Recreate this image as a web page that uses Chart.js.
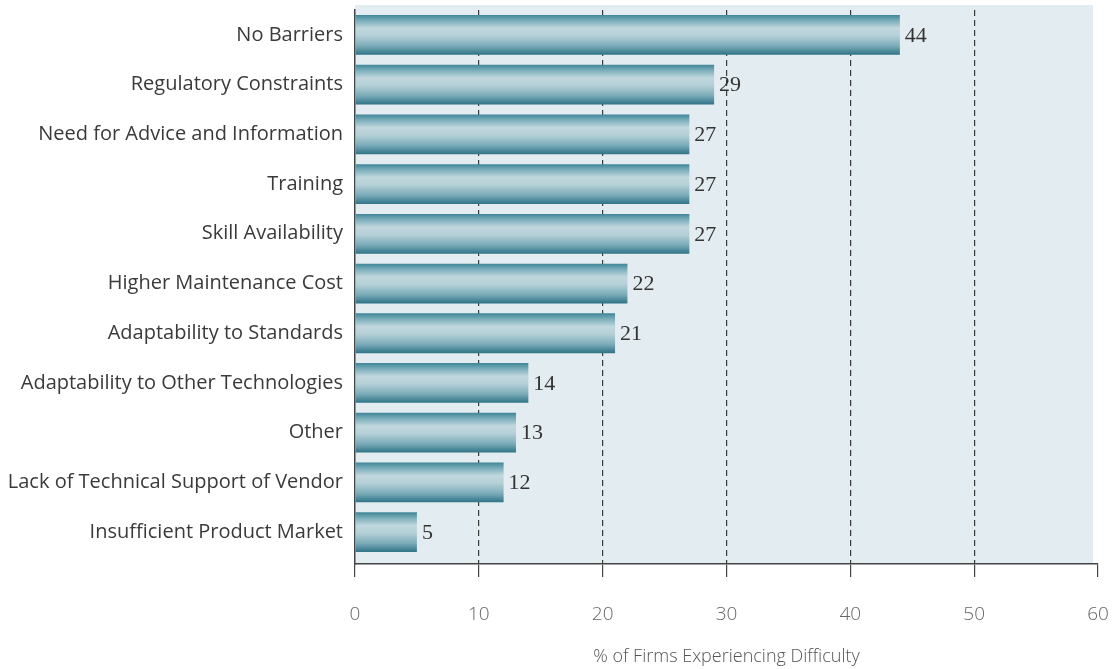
<!DOCTYPE html>
<html><head><meta charset="utf-8">
<script src="https://cdn.jsdelivr.net/npm/chart.js@4/dist/chart.umd.min.js"></script>
<style>html,body{margin:0;padding:0;background:#fff}#wrap{width:1116px;height:669px}</style>
</head><body><div id="wrap"><canvas id="c" width="1116" height="669"></canvas></div>
<script>
const categories = [
  'No Barriers',
  'Regulatory Constraints',
  'Need for Advice and Information',
  'Training',
  'Skill Availability',
  'Higher Maintenance Cost',
  'Adaptability to Standards',
  'Adaptability to Other Technologies',
  'Other',
  'Lack of Technical Support of Vendor',
  'Insufficient Product Market'
];
const values = [44, 29, 27, 27, 27, 22, 21, 14, 13, 12, 5];
const xTicks = [0, 10, 20, 30, 40, 50, 60];
const axisTitle = '% of Firms Experiencing Difficulty';

function barFill(ctx) {
  const chart = ctx.chart;
  const ys = chart.scales && chart.scales.y;
  if (!ys || !chart.chartArea || ctx.dataIndex === undefined) return '#6fa3b1';
  const c = ys.getPixelForValue(ctx.dataIndex);
  const band = Math.abs(ys.getPixelForValue(1) - ys.getPixelForValue(0));
  const h = band * 0.4;
  if (!isFinite(c) || !isFinite(h)) return '#6fa3b1';
  const g = chart.ctx.createLinearGradient(0, c - h, 0, c + h);
  g.addColorStop(0, '#3f8597');
  g.addColorStop(0.12, '#72a8b6');
  g.addColorStop(0.33, '#c0d7dd');
  g.addColorStop(0.52, '#b5d0d7');
  g.addColorStop(0.78, '#7aabb8');
  g.addColorStop(1, '#2f7386');
  return g;
}

const bgPlugin = {
  id: 'bg',
  beforeDraw(chart) {
    const {ctx, chartArea: a} = chart;
    ctx.save();
    ctx.fillStyle = '#e3ecf1';
    ctx.fillRect(a.left, a.top - 5, a.right - a.left - 5, a.bottom - a.top + 5);
    ctx.restore();
  }
};

const valuePlugin = {
  id: 'vals',
  afterDatasetsDraw(chart) {
    const ctx = chart.ctx;
    const meta = chart.getDatasetMeta(0);
    ctx.save();
    ctx.font = '22px "Liberation Serif", "DejaVu Serif", serif';
    ctx.fillStyle = '#333';
    ctx.textBaseline = 'middle';
    ctx.textAlign = 'left';
    meta.data.forEach((el, i) => {
      ctx.fillText(String(values[i]), el.x + 5, el.y + 1);
    });
    ctx.restore();
  }
};

new Chart(document.getElementById('c'), {
  type: 'bar',
  data: {
    labels: categories,
    datasets: [{
      data: values,
      backgroundColor: barFill,
      borderWidth: 0,
      barPercentage: 0.8,
      categoryPercentage: 1.0
    }]
  },
  options: {
    indexAxis: 'y',
    responsive: false,
    animation: false,
    layout: {padding: {top: 10, right: 18, left: 0, bottom: 0}},
    plugins: {legend: {display: false}, tooltip: {enabled: false}},
    scales: {
      x: {
        min: xTicks[0],
        max: xTicks[xTicks.length - 1],
        afterBuildTicks: s => { s.ticks = xTicks.map(v => ({value: v})); },
        afterFit: s => { s.height = 105; s.paddingLeft = 0; s.paddingRight = 0; },
        grid: {
          display: true,
          drawOnChartArea: true,
          drawTicks: true,
          tickLength: 13,
          color: c => (c.tick && (c.tick.value === 0 || c.tick.value === 60)) ? 'rgba(0,0,0,0)' : '#3a3a3a',
          lineWidth: 1.2,
          tickColor: '#444',
          tickWidth: 1.2,
          tickBorderDash: [100, 0]
        },
        border: {display: true, color: '#444', width: 1.5, dash: [6, 4]},
        ticks: {
          color: '#666',
          font: {family: '"Open Sans", sans-serif', size: 19, weight: '300'},
          padding: 26,
          maxRotation: 0
        },
        title: {
          display: true,
          text: axisTitle,
          color: '#555',
          font: {family: '"Open Sans", sans-serif', size: 18, weight: '300'},
          padding: {top: 0, bottom: 1}
        }
      },
      y: {
        afterBuildTicks: s => { s._valueRange = 11.14; },
        afterFit: s => { s.width = 355; s.paddingTop = 0; s.paddingBottom = 0; },
        grid: {display: false, drawTicks: false},
        border: {display: true, color: '#444', width: 1.5},
        ticks: {
          color: '#3a3a3a',
          font: {family: '"Open Sans", sans-serif', size: 20},
          padding: 12
        }
      }
    }
  },
  plugins: [bgPlugin, valuePlugin]
});
</script>
</body></html>
